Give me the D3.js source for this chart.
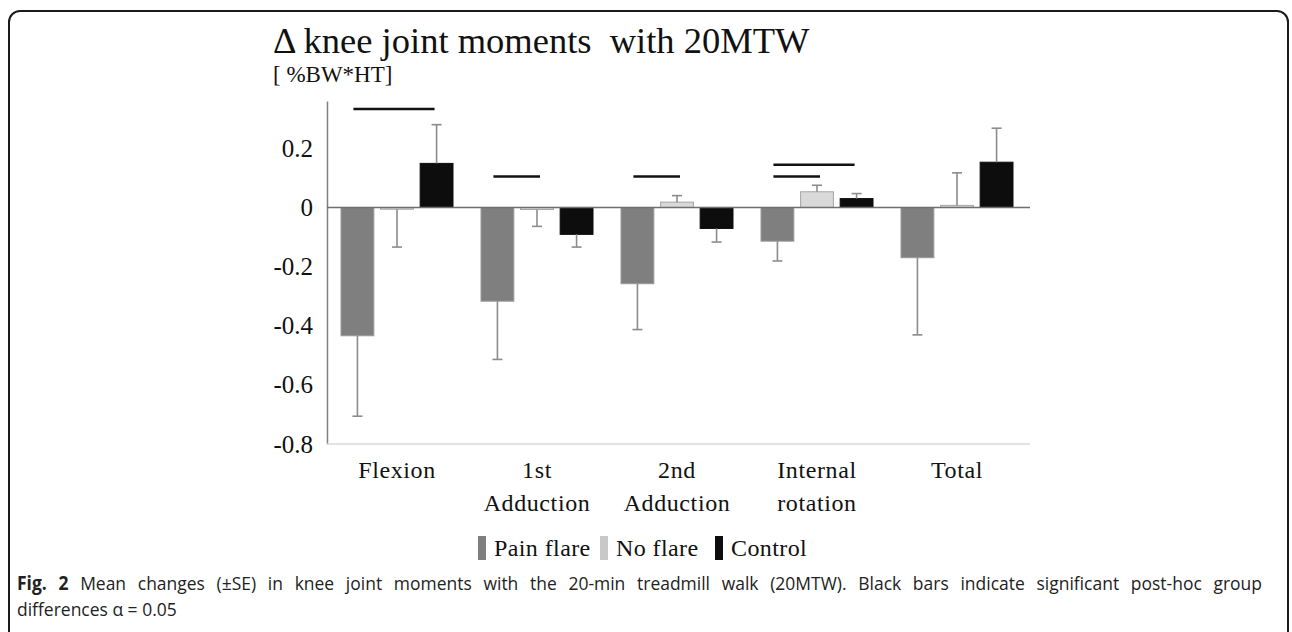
<!DOCTYPE html>
<html>
<head>
<meta charset="utf-8">
<script src="https://cdn.jsdelivr.net/npm/d3@7"></script>
<style>
  html, body { margin: 0; padding: 0; background: #fff; }
  svg { display: block; }
  .serif { font-family: "Liberation Serif", "Times New Roman", serif; fill: #111; }
  .caption { font-family: "Open Sans", "Noto Sans", sans-serif; fill: #222; }
</style>
</head>
<body>
<svg id="chart" width="1292" height="632"></svg>
<script>
(function(root) {
  // Data
  const categories = ["Flexion", "1st Adduction", "2nd Adduction", "Internal rotation", "Total"];
  const series = ["Pain flare", "No flare", "Control"];
  const painFlare   = [-0.434, -0.317, -0.258, -0.114, -0.170];
  const painFlareSE = [0.272, 0.197, 0.155, 0.067, 0.261];
  const noFlare     = [-0.006, -0.007, 0.018, 0.053, 0.007];
  const noFlareSE   = [0.128, 0.057, 0.022, 0.022, 0.110];
  const control     = [0.149, -0.091, -0.071, 0.030, 0.153];
  const controlSE   = [0.131, 0.043, 0.046, 0.017, 0.115];
  const yTicks = [0.2, 0, -0.2, -0.4, -0.6, -0.8];
  const yTickLabels = ["0.2", "0", "-0.2", "-0.4", "-0.6", "-0.8"];
  // significance lines: category, from series, to series, height
  const sigCategory = ["Flexion", "1st Adduction", "2nd Adduction", "Internal rotation", "Internal rotation"];
  const sigFrom = ["Pain flare", "Pain flare", "Pain flare", "Pain flare", "Pain flare"];
  const sigTo = ["Control", "No flare", "No flare", "Control", "No flare"];
  const sigLevel = [0.333, 0.105, 0.105, 0.144, 0.105];

  const colors = { "Pain flare": "#7f7f7f", "No flare": "#d9d9d9", "Control": "#0d0d0d" };
  const strokes = { "Pain flare": "#9a9a9a", "No flare": "#a6a6a6", "Control": "#0d0d0d" };

  const svg = d3.select("#chart");

  // frame
  svg.append("rect")
    .attr("x", 9).attr("y", 11)
    .attr("width", 1279).attr("height", 660)
    .attr("rx", 11)
    .attr("fill", "none")
    .attr("stroke", "#1a1a1a")
    .attr("stroke-width", 2);

  // scales
  const plotLeft = 327, plotRight = 1027;
  const x = d3.scaleBand().domain(categories).range([plotLeft, plotRight]);
  const xs = d3.scaleBand().domain(series).range([14, 126]).paddingInner(0.17);
  const y = d3.scaleLinear().domain([-0.8, 0.36]).range([444, 101]);

  // rows
  const vals = { "Pain flare": painFlare, "No flare": noFlare, "Control": control };
  const ses = { "Pain flare": painFlareSE, "No flare": noFlareSE, "Control": controlSE };
  const rows = [];
  categories.forEach((c, i) => {
    series.forEach(s => rows.push({ cat: c, s: s, v: vals[s][i], se: ses[s][i] }));
  });

  // title
  svg.append("text").attr("class", "serif")
    .attr("x", 273).attr("y", 53)
    .attr("font-size", 36.5)
    .attr("xml:space", "preserve")
    .text("\u0394 knee joint moments  with 20MTW");
  svg.append("text").attr("class", "serif")
    .attr("x", 273).attr("y", 82)
    .attr("font-size", 23)
    .attr("xml:space", "preserve")
    .text("[ %BW*HT]");

  // y axis
  const yAxis = svg.append("g")
    .attr("transform", `translate(${plotLeft},0)`)
    .call(d3.axisLeft(y)
      .tickValues(yTicks)
      .tickFormat((d, i) => yTickLabels[i])
      .tickSize(0)
      .tickPadding(14));
  yAxis.select(".domain").attr("stroke", "#7f7f7f").attr("stroke-width", 1.5);
  yAxis.selectAll("text")
    .attr("class", "serif")
    .attr("font-size", 25)
    .attr("fill", "#111");

  // bottom line at -0.8
  svg.append("line")
    .attr("x1", plotLeft).attr("x2", plotRight + 3)
    .attr("y1", y(-0.8)).attr("y2", y(-0.8))
    .attr("stroke", "#d9d9d9").attr("stroke-width", 1.5);

  // bars
  const bars = svg.append("g").attr("class", "bars");
  bars.selectAll("rect")
    .data(rows)
    .enter().append("rect")
      .attr("x", d => x(d.cat) + xs(d.s))
      .attr("width", xs.bandwidth())
      .attr("y", d => y(Math.max(0, d.v)))
      .attr("height", d => Math.abs(y(d.v) - y(0)))
      .attr("fill", d => colors[d.s])
      .attr("stroke", d => strokes[d.s])
      .attr("stroke-width", 1);

  // error bars (one-sided, away from zero)
  const err = svg.append("g").attr("class", "errors")
    .attr("stroke", "#8c8c8c").attr("stroke-width", 1.6);
  rows.forEach(d => {
    const cx = x(d.cat) + xs(d.s) + xs.bandwidth() / 2;
    const end = d.v >= 0 ? d.v + d.se : d.v - d.se;
    err.append("line").attr("x1", cx).attr("x2", cx).attr("y1", y(d.v)).attr("y2", y(end));
    err.append("line").attr("x1", cx - 5).attr("x2", cx + 5).attr("y1", y(end)).attr("y2", y(end));
  });

  // zero line
  svg.append("line")
    .attr("x1", plotLeft).attr("x2", plotRight + 3)
    .attr("y1", y(0)).attr("y2", y(0))
    .attr("stroke", "#6f6f6f").attr("stroke-width", 1.5);

  // significance lines
  const sig = svg.append("g").attr("stroke", "#111").attr("stroke-width", 2.5);
  sigCategory.forEach((c, i) => {
    const x1 = x(c) + xs(sigFrom[i]) + xs.bandwidth() / 2 - 4;
    const x2 = x(c) + xs(sigTo[i]) + xs.bandwidth() / 2 + (sigTo[i] === "Control" ? -2 : 3);
    sig.append("line").attr("x1", x1).attr("x2", x2)
      .attr("y1", y(sigLevel[i])).attr("y2", y(sigLevel[i]));
  });

  // category labels
  const catLabels = svg.append("g");
  categories.forEach(c => {
    const words = c.split(" ");
    const t = catLabels.append("text").attr("class", "serif")
      .attr("text-anchor", "middle")
      .attr("font-size", 24)
      .attr("letter-spacing", 0.6);
    words.forEach((w, j) => {
      t.append("tspan")
        .attr("x", x(c) + x.bandwidth() / 2)
        .attr("y", 478 + j * 33)
        .text(w);
    });
  });

  // legend
  const legendX = [478, 600, 715];
  const legend = svg.append("g");
  series.forEach((s, i) => {
    legend.append("rect")
      .attr("x", legendX[i]).attr("y", 536)
      .attr("width", 8).attr("height", 24)
      .attr("fill", colors[s] === "#d9d9d9" ? "#c8c8c8" : colors[s]);
    legend.append("text").attr("class", "serif")
      .attr("x", legendX[i] + 16).attr("y", 556)
      .attr("font-size", 24)
      .attr("letter-spacing", 0.4)
      .text(s);
  });

  // caption: slightly condensed sans, first line justified to the column width
  const capLeft = 17, capRight = 1262, squeeze = 0.92;
  const capG = svg.append("g").attr("transform", `translate(${capLeft},0) scale(${squeeze},1)`);
  const cap = capG.append("text").attr("class", "caption").attr("font-size", 19);
  cap.append("tspan").attr("x", 0).attr("y", 590)
    .attr("font-weight", "bold").text("Fig. 2");
  const capRest = " Mean changes (\u00b1SE) in knee joint moments with the 20-min treadmill walk (20MTW). Black bars indicate significant post-hoc group";
  cap.append("tspan").text(capRest);
  const natural = cap.node().getComputedTextLength();
  const gaps = (("Fig. 2" + capRest).match(/ /g) || []).length;
  cap.attr("word-spacing", Math.max(0, ((capRight - capLeft) / squeeze - natural) / gaps));
  capG.append("text").attr("class", "caption").attr("font-size", 19)
    .attr("x", 0).attr("y", 616)
    .text("differences \u03b1 = 0.05");
})(window);
</script>
</body>
</html>
